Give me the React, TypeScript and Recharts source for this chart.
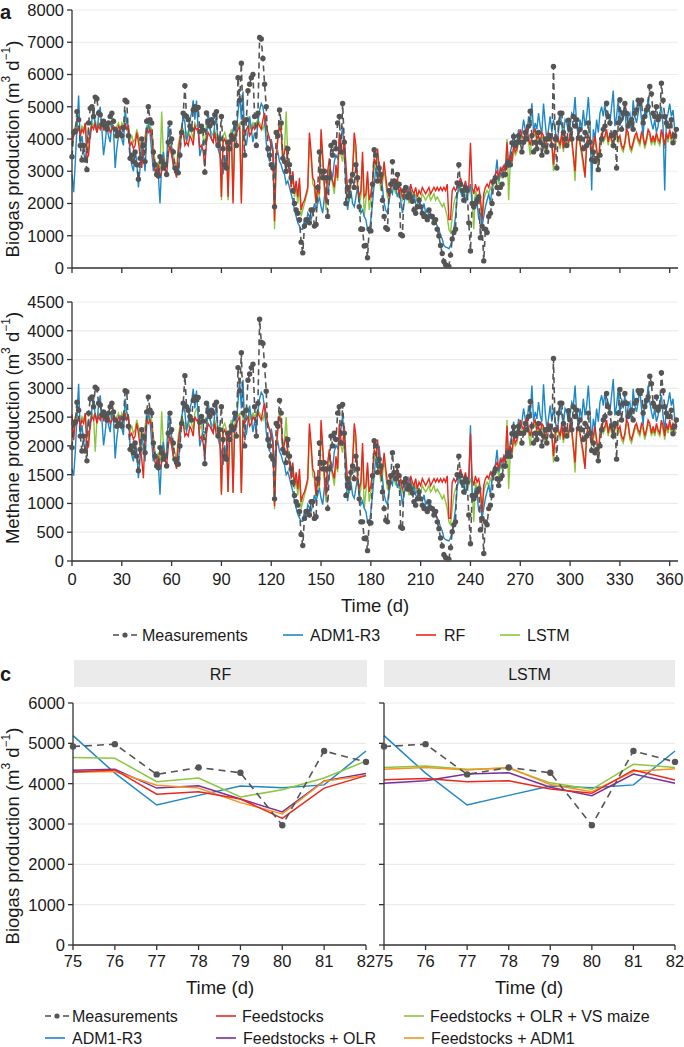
import React from "react";
import { LineChart, Line, XAxis, YAxis, CartesianGrid } from "recharts";

const FONT = '"Liberation Sans", Arial, Helvetica, sans-serif';
const TXT = "#1a1a1a";
const AXIS = "#333333";
const GRID = "#ebebeb";
const GREY = "#555555";
const BLUE = "#1f88c4";
const RED = "#e8281e";
const GREEN = "#8cc63f";
const PURPLE = "#7b2f9c";
const ORANGE = "#f7931e";

// daily biogas production, m3/d
const bioMeas = [
  3450, 4200, 4250, 4850, 4600, 3800, 3350, 3800, 3350, 3050,
  4500, 4950, 5000, 4700, 5300, 5250, 4800, 4750, 4450, 4550,
  4400, 4300, 4500, 4700, 4800, 4550, 4300, 4100, 4200, 4150,
  4100, 4350, 5200, 5150, 4100, 3400, 3500, 3300, 3600, 3200,
  2750, 3400, 4000, 3800, 3300, 4550, 5000, 4600, 4500, 3600,
  3200, 2900, 2850, 3450, 3300, 3100, 3200, 2900, 3900, 4500,
  4000, 3600, 3100, 3000, 2950, 3500, 4200, 4800, 5650, 4700,
  4600, 4400, 4300, 4900, 5000, 4920, 4980, 4230, 4400, 4270,
  2970, 4810, 4540, 4400, 4600, 4500, 4750, 4850, 3800, 4000,
  4700, 3700, 3200, 3100, 3900, 3700, 4100, 4000, 4500, 3800,
  5900, 5200, 6350, 4500, 3500, 4600, 5500, 5700, 5900, 6000,
  4700, 3800, 4800, 7150, 7100, 6500, 5700, 5000, 3700, 3500,
  3200, 3100, 1900, 4200, 4100, 4900, 4500, 3400, 3300, 3000,
  3700, 3200, 2800, 2400, 2000, 1800, 1700, 1500, 800, 470,
  1300, 1500, 1500, 1400, 1800, 1800, 1300, 1350, 2500, 3600,
  3000, 2800, 3000, 2800, 1600, 2800, 3800, 3500, 3900, 3700,
  4500, 4700, 3600, 5100, 3900, 2000, 2500, 2230, 2700, 2900,
  2500, 3200, 2800, 1900, 1200, 1200, 680, 700, 320, 1200,
  1150, 2600, 3670, 3500, 2700, 3100, 2900, 2100, 1600, 1250,
  1200, 2400, 2600, 3300, 2700, 2500, 2900, 2600, 1040, 1000,
  2400, 2500, 2200, 2300, 2200, 2070, 1800, 1700, 1900, 2100,
  1900, 1700, 1600, 1600, 1500, 1800, 1610, 1600, 1400, 1500,
  1200, 990, 700, 450, 200, 100, 60, 50, 400, 900,
  1100, 1200, 2640, 3200, 2600, 2400, 2100, 2500, 2400, 1400,
  525, 2000, 1900, 2000, 2100, 2200, 940, 1300, 220, 1200,
  1100, 1600, 1700, 2000, 2690, 2800, 2500, 2300, 2500, 2600,
  2900, 2900, 3200, 3300, 3200, 3880, 4080, 3800, 3900, 4100,
  3900, 3600, 3900, 4200, 4000, 4400, 4860, 4100, 3600, 3900,
  3700, 4200, 3900, 3500, 3800, 4000, 3600, 4000, 4100, 3800,
  6250, 4000, 3100, 4500, 4800, 4800, 4200, 4000, 3800, 4580,
  4300, 4000, 4700, 4400, 4600, 4030, 4300, 4000, 3700, 4200,
  3800, 4500, 3900, 3360, 3600, 3300, 3400, 3050, 3500, 4000,
  4300, 4400, 5110, 4700, 4500, 4100, 3800, 4200, 3100, 4500,
  5220, 4300, 4800, 5100, 4800, 4400, 4500, 4600, 4300, 4800,
  4900, 5200, 5100, 5200, 4500, 4700, 4900, 5000, 5630, 5400,
  4800, 4700, 5000, 4600, 4700, 5730, 5200, 4700, 4500, 4400,
  4400, 4600, 3880, 4100, 4300,
];

const bioAdm = [
  2900, 2350, 3300, 4400, 5350, 3800, 4100, 3600, 3300, 3900,
  4300, 4000, 4600, 4900, 4400, 4200, 4700, 5000, 4300, 3500,
  3900, 4400, 4100, 3900, 4500, 4300, 3100, 3700, 4100, 4400,
  4000, 3800, 4900, 4500, 4300, 3500, 3200, 3000, 3600, 3300,
  2500, 3100, 3800, 3500, 3000, 4100, 4500, 4200, 3600, 3000,
  3300, 3000, 2900, 2000, 3200, 3600, 3000, 3300, 4400, 4200,
  3700, 3200, 3000, 3100, 2900, 3600, 4300, 4700, 4500, 3900,
  4200, 4600, 4800, 5200, 4600, 5190, 4260, 3470, 3710, 3940,
  3900, 3970, 4810, 4400, 4000, 3900, 4500, 4700, 3700, 3500,
  3300, 2900, 3500, 3100, 3600, 4000, 3800, 4300, 4500, 4200,
  4800, 5400, 4600, 5470, 4000, 3800, 4200, 4700, 4300, 3900,
  4200, 4000, 4500, 4900, 5100, 5000, 4600, 3900, 3500, 3300,
  4000, 3700, 2800, 3500, 3600, 3300, 3200, 3000, 2900, 2600,
  2700, 2500, 2300, 2100, 1800, 1600, 1400, 1300, 1200, 1200,
  1500, 1300, 1700, 1600, 1500, 1700, 2000, 1800, 2000, 2200,
  1900, 1700, 2200, 2500, 2300, 2600, 3000, 2800, 3300, 3500,
  3400, 3700, 4000, 4390, 3600, 2500, 1800, 2200, 2400, 2000,
  1900, 2200, 2500, 2100, 1700, 1800, 1600, 1500, 1200, 1100,
  1500, 2000, 2600, 3100, 2800, 3300, 2900, 2500, 2000, 1800,
  1700, 2100, 2400, 2300, 2700, 2500, 2200, 2400, 2100, 1700,
  2000, 2300, 2100, 2500, 2400, 2100, 2300, 2000, 1900, 2200,
  1900, 1800, 2000, 1700, 1800, 1600, 1700, 1500, 1600, 1400,
  1300, 1200, 1000, 900, 700, 650, 630, 600, 700, 900,
  1200, 1600, 2200, 2600, 2400, 2200, 2500, 2000, 2300, 2400,
  2600, 2000, 1800, 2200, 2000, 1500, 1700, 1300, 1600, 1900,
  2100, 2300, 2000, 2500, 2800, 2900, 3360, 2700, 2900, 3100,
  3000, 3200, 3400, 3100, 3600, 3800, 4200, 3700, 3900, 4300,
  4000, 4200, 4600, 4300, 4100, 4700, 4400, 5110, 4200, 4500,
  4300, 4800, 4400, 4200, 5100, 4500, 4000, 4300, 4700, 4200,
  4600, 4300, 3900, 4200, 4800, 4400, 4100, 4600, 4500, 4200,
  4400, 4800, 4700, 5300, 4400, 4100, 4600, 4300, 4900, 4400,
  4700, 5300, 4500, 2400, 4300, 4000, 4600, 4200, 4800, 5000,
  4700, 5100, 4600, 4800, 4500, 5000, 5500, 4400, 4700, 5200,
  4400, 4900, 4600, 5000, 4200, 4700, 4800, 4300, 5200, 4700,
  4500, 4800, 5200, 4600, 4100, 4900, 4700, 5300, 4800, 4500,
  4300, 4600, 4200, 4400, 4800, 5000, 4400, 2400, 4600, 4800,
  5100, 4700, 4900, 4300, 4100,
];

const bioRf = [
  3800, 4100, 4300, 4200, 4400, 4100, 4300, 4200, 4500, 3400,
  3500, 4200, 4400, 4300, 4500, 4200, 4400, 4300, 4600, 4300,
  4400, 4300, 4400, 4200, 4300, 4400, 4300, 4200, 4400, 4300,
  4400, 4300, 4500, 4300, 4400, 3800, 3900, 3700, 3800, 4200,
  3900, 3500, 3100, 3800, 3900, 4300, 4200, 4300, 4100, 3500,
  3000, 2900, 3200, 2800, 3000, 3400, 3100, 2900, 3500, 3800,
  3500, 3200, 3000, 2800, 3600, 4000, 4300, 4200, 3800, 3900,
  3800, 4100, 4000, 3800, 4400, 4290, 4340, 3740, 3800, 3620,
  3140, 3890, 4200, 4100, 4000, 3900, 4200, 3800, 3900, 3900,
  2200, 3900, 4000, 3800, 2200, 3900, 4200, 2000, 4100, 4200,
  4300, 4400, 2000, 4300, 4200, 4300, 4400, 4100, 4200, 4400,
  4300, 4400, 4500, 4400, 4300, 4600, 4800, 4400, 4200, 4000,
  3800, 3600, 1450, 3400, 4000, 4400, 4200, 3300, 3600, 3800,
  3200, 3000, 2500, 3000, 2300, 2700, 2200, 2800, 1800, 2000,
  2100, 2300, 2500, 4200, 3600, 2800, 2700, 2000, 2600, 2300,
  4300, 3500, 2600, 2000, 3000, 3400, 2900, 2700, 2500, 3200,
  2800, 4200, 3700, 3500, 4100, 3200, 2400, 2300, 2800, 3000,
  4200, 3800, 2600, 2200, 2400, 3600, 2200, 2300, 3000, 2100,
  2300, 2700, 3400, 3200, 3700, 3100, 2600, 2800, 3300, 2800,
  2400, 2200, 2500, 2700, 2600, 2500, 2800, 2300, 2500, 2200,
  2300, 2500, 2400, 2100, 2600, 2400, 2300, 2500, 2200, 2400,
  2300, 2500, 2400, 2300, 2400, 2500, 2300, 2400, 2500, 2400,
  2500, 2400, 2500, 2400, 2500, 2400, 2600, 1500, 1500, 2400,
  2500, 2400, 2500, 2600, 2800, 2600, 2500, 2700, 2400, 2500,
  3880, 2500, 2300, 2600, 2400, 2500, 2200, 1500, 2300, 2500,
  2600, 2500, 2700, 2600, 2800, 2900, 3000, 2800, 3100, 3000,
  3200, 3000, 3900, 3200, 3500, 3300, 3800, 3600, 3700, 4000,
  4300, 4100, 4000, 4200, 4400, 4000, 3800, 4100, 4200, 4300,
  4000, 4100, 3900, 4200, 4100, 3700, 4000, 4200, 4100, 3900,
  3200, 3900, 4100, 4000, 3800, 4200, 3700, 4100, 4000, 3900,
  4200, 4000, 3500, 3000, 4000, 4200, 3900, 3600, 3300, 2800,
  3900, 4100, 4000, 3600, 3800, 4100, 3700, 3300, 3900, 4200,
  4000, 4100, 4300, 3900, 4200, 4000, 3800, 4100, 4200, 4000,
  4100, 3800, 3700, 3900, 4300, 4200, 3800, 3700, 3900, 4100,
  4200, 4000, 3900, 4200, 4100, 3800, 4000, 4300, 4200, 3900,
  4100, 3900, 4200, 4000, 3900, 4300, 4100, 3800, 4200, 4000,
  4300, 4000, 4200, 4100, 4000,
];

const bioLstm = [
  4000, 4200, 4400, 4500, 4300, 4200, 4400, 4300, 4500, 3800,
  3700, 4300, 4500, 4400, 4600, 4300, 4500, 4400, 4500, 4400,
  4500, 4400, 4300, 4400, 4500, 4400, 4300, 4400, 4500, 4300,
  4500, 4400, 4600, 4500, 4400, 4000, 4100, 3900, 4000, 4300,
  4100, 3800, 3400, 4000, 4100, 4400, 4300, 4400, 4300, 3800,
  3300, 3100, 3300, 3000, 4850, 3600, 3300, 3100, 3700, 4000,
  3800, 3500, 3300, 3100, 3800, 4100, 4400, 4300, 4000, 4200,
  4100, 4300, 4200, 4000, 4500, 4400, 4440, 4360, 4380, 4020,
  3860, 4480, 4400, 4300, 4200, 4100, 4300, 4000, 4100, 4100,
  2100, 4100, 4200, 4000, 2100, 4100, 4300, 2100, 4200, 4300,
  4400, 4500, 2100, 4400, 4600, 4500, 4700, 4300, 4400, 4500,
  4400, 4500, 4600, 4500, 4400, 4300, 4500, 4200, 4100, 4000,
  3900, 3600, 1200, 3500, 4200, 4500, 4300, 3400, 3700, 4850,
  3400, 3100, 2600, 2900, 2200, 2500, 2000, 2600, 1600, 1800,
  2000, 2200, 2400, 3900, 3400, 2600, 2500, 1900, 2400, 2200,
  4000, 3300, 2400, 1800, 2800, 3200, 2800, 2600, 2300, 3000,
  2700, 4000, 3500, 3300, 3900, 3000, 2200, 2100, 2600, 2900,
  3900, 3500, 2400, 2000, 2200, 3300, 1600, 2100, 2800, 1800,
  2100, 2500, 3200, 3000, 3500, 2900, 2400, 2600, 3100, 2600,
  2200, 2100, 2400, 2600, 2500, 2300, 2600, 2200, 2400, 2100,
  2200, 2400, 2300, 2000, 2400, 2300, 2100, 2300, 2100, 2200,
  2100, 2300, 2200, 2100, 2200, 2300, 2100, 2200, 2300, 2100,
  2200, 2100, 2000, 1900, 2000, 1800, 1600, 1200, 1100, 1600,
  2000, 2200, 2300, 2400, 2500, 2400, 2300, 2500, 2200, 2300,
  2500, 2300, 1200, 2400, 2200, 2300, 2000, 1300, 2100, 2300,
  2400, 2300, 2500, 2400, 2600, 2700, 2800, 2600, 2900, 2800,
  3000, 2800, 4000, 2100, 3300, 3200, 3700, 3500, 3600, 3900,
  4100, 4000, 3900, 4100, 4200, 3900, 3500, 4000, 4100, 4200,
  3900, 4000, 3800, 4100, 4000, 3600, 3900, 4100, 4000, 3800,
  3000, 3700, 4000, 3900, 3700, 4100, 3600, 4000, 3900, 3800,
  4100, 3900, 3400, 2700, 3900, 4100, 3800, 3500, 3100, 2900,
  3800, 4000, 3900, 3500, 3700, 4000, 3600, 3100, 3800, 4100,
  3900, 4000, 4200, 3800, 4100, 3900, 3700, 4000, 4100, 3900,
  4000, 3700, 3600, 3800, 4200, 4100, 3700, 3600, 3800, 4000,
  4100, 3900, 3800, 4100, 4000, 3700, 3900, 4200, 4100, 3800,
  4000, 3800, 4100, 3900, 3800, 4200, 4000, 3700, 4100, 3900,
  4200, 3900, 4100, 4000, 3900,
];

// daily methane production, m3/d
const ch4Meas = [
  1970, 2390, 2420, 2760, 2620, 2170, 1910, 2170, 1910, 1740,
  2570, 2820, 2850, 2680, 3020, 2990, 2740, 2710, 2540, 2590,
  2510, 2450, 2570, 2680, 2740, 2590, 2450, 2340, 2390, 2370,
  2340, 2480, 2960, 2940, 2340, 1940, 2000, 1880, 2050, 1820,
  1570, 1940, 2280, 2170, 1880, 2590, 2850, 2620, 2570, 2050,
  1820, 1650, 1620, 1970, 1880, 1770, 1820, 1650, 2220, 2570,
  2280, 2050, 1770, 1710, 1680, 2000, 2390, 2740, 3220, 2680,
  2620, 2510, 2450, 2790, 2850, 2800, 2840, 2410, 2510, 2430,
  1690, 2740, 2590, 2510, 2620, 2570, 2710, 2760, 2170, 2280,
  2680, 2110, 1820, 1770, 2220, 2110, 2340, 2280, 2570, 2170,
  3360, 2960, 3620, 2570, 2000, 2620, 3140, 3250, 3360, 3420,
  2680, 2170, 2740, 4200, 3800, 3780, 3400, 2950, 2110, 2000,
  1820, 1770, 1080, 2390, 2340, 2790, 2570, 1940, 1880, 1710,
  2110, 1820, 1600, 1370, 1140, 1030, 970, 860, 460, 270,
  740, 860, 860, 800, 1030, 1030, 740, 770, 1430, 2050,
  1710, 1600, 1710, 1600, 910, 1600, 2170, 2000, 2220, 2110,
  2570, 2680, 2050, 2720, 2220, 1140, 1430, 1270, 1540, 1650,
  1430, 1820, 1600, 1080, 680, 680, 390, 400, 180, 680,
  660, 1480, 2090, 2000, 1540, 1770, 1650, 1200, 910, 710,
  680, 1370, 1480, 1880, 1540, 1430, 1650, 1480, 590, 570,
  1370, 1430, 1250, 1310, 1250, 1180, 1030, 970, 1080, 1200,
  1080, 970, 910, 910, 860, 1030, 920, 910, 800, 860,
  680, 560, 400, 260, 110, 60, 30, 30, 230, 510,
  630, 680, 1500, 1820, 1480, 1370, 1200, 1430, 1370, 800,
  300, 1140, 1080, 1140, 1200, 1250, 540, 740, 130, 680,
  630, 910, 970, 1140, 1530, 1600, 1430, 1310, 1430, 1480,
  1650, 1650, 1820, 1880, 1820, 2210, 2330, 2170, 2220, 2340,
  2220, 2050, 2220, 2390, 2280, 2510, 2770, 2340, 2050, 2220,
  2110, 2390, 2220, 2000, 2170, 2280, 2050, 2280, 2340, 2170,
  3520, 2280, 1770, 2570, 2740, 2740, 2390, 2280, 2170, 2610,
  2450, 2280, 2680, 2510, 2620, 2300, 2450, 2280, 2110, 2390,
  2170, 2570, 2220, 1920, 2050, 1880, 1940, 1740, 2000, 2280,
  2450, 2510, 2910, 2680, 2570, 2340, 2170, 2390, 1770, 2570,
  2980, 2450, 2740, 2910, 2740, 2510, 2570, 2620, 2450, 2740,
  2790, 2960, 2910, 2960, 2570, 2680, 2790, 2850, 3210, 3080,
  2740, 2680, 2850, 2620, 2680, 3270, 2960, 2680, 2570, 2510,
  2510, 2620, 2210, 2340, 2450,
];

const ch4Adm = [
  1600, 1480, 1900, 2530, 3080, 2190, 2360, 2070, 1900, 2240,
  2470, 2300, 2650, 2820, 2530, 2420, 2700, 2880, 2470, 2010,
  2240, 2530, 2360, 2240, 2590, 2470, 1780, 2130, 2360, 2530,
  2300, 2190, 2820, 2590, 2470, 2010, 1840, 1730, 2070, 1900,
  1440, 1780, 2190, 2010, 1730, 2360, 2590, 2420, 2070, 1730,
  1900, 1730, 1670, 1150, 1840, 2070, 1730, 1900, 2530, 2420,
  2130, 1840, 1730, 1780, 1670, 2070, 2470, 2700, 2590, 2240,
  2420, 2650, 2760, 2990, 2650, 2960, 2470, 1990, 2130, 2260,
  2230, 2270, 2760, 2530, 2300, 2240, 2590, 2700, 2130, 2010,
  1900, 1670, 2010, 1780, 2070, 2300, 2190, 2470, 2590, 2420,
  2760, 3110, 2650, 3150, 2300, 2190, 2420, 2700, 2470, 2240,
  2420, 2300, 2590, 2820, 2930, 2880, 2650, 2240, 2010, 1900,
  2300, 2130, 1610, 2010, 2070, 1900, 1840, 1730, 1670, 1500,
  1550, 1440, 1320, 1210, 1040, 920, 810, 750, 690, 690,
  860, 750, 980, 920, 860, 980, 1150, 1040, 1150, 1270,
  1090, 980, 1270, 1440, 1320, 1500, 1730, 1610, 1900, 2010,
  1960, 2130, 2300, 2520, 2070, 1440, 1040, 1270, 1380, 1150,
  1090, 1270, 1440, 1210, 980, 1040, 920, 860, 690, 630,
  860, 1150, 1500, 1780, 1610, 2000, 1670, 1440, 1150, 1040,
  980, 1210, 1380, 1320, 1550, 1440, 1270, 1380, 1210, 980,
  1150, 1320, 1210, 1440, 1380, 1210, 1320, 1150, 1090, 1270,
  1090, 1040, 1150, 980, 1040, 920, 980, 860, 920, 810,
  750, 690, 580, 520, 400, 370, 360, 350, 400, 520,
  690, 920, 1270, 1500, 1380, 1270, 1440, 1150, 1320, 1380,
  2360, 1150, 1040, 1270, 1150, 860, 980, 750, 920, 1090,
  1210, 1320, 1150, 1440, 1610, 1670, 1930, 1550, 1670, 1780,
  1730, 1840, 1960, 1780, 2070, 2190, 2420, 2130, 2240, 2470,
  2300, 2420, 2650, 2470, 2360, 2700, 2530, 3050, 2420, 2590,
  2470, 2760, 2530, 2420, 3070, 2590, 2300, 2470, 2700, 2420,
  2650, 2470, 2240, 2420, 2760, 2530, 2360, 2650, 2590, 2420,
  2530, 2760, 2700, 3050, 2530, 2360, 2650, 2470, 2820, 2530,
  2700, 3050, 2590, 2050, 2470, 2300, 2650, 2420, 2760, 2880,
  2700, 2930, 2650, 2760, 2590, 2880, 3160, 2530, 2700, 2990,
  2530, 2820, 2650, 2880, 2420, 2700, 2760, 2470, 2990, 2700,
  2590, 2760, 2990, 2650, 2360, 2820, 2700, 3050, 2760, 2590,
  2470, 2650, 2420, 2530, 2760, 2880, 2530, 2250, 2650, 2760,
  2930, 2700, 2820, 2470, 2360,
];

const ch4Rf = [
  2550, 2100, 2450, 2390, 2510, 2340, 2450, 2390, 2570, 1940,
  2000, 2390, 2510, 2450, 2570, 2390, 2510, 2450, 2620, 2450,
  2510, 2450, 2510, 2390, 2450, 2510, 2450, 2390, 2510, 2450,
  2510, 2450, 2570, 2450, 2510, 2170, 2220, 2110, 2170, 2390,
  2220, 2000, 1770, 1440, 2220, 2450, 2390, 2450, 2340, 2000,
  1710, 1650, 1820, 1600, 1710, 1940, 1770, 1650, 2000, 2170,
  2000, 1820, 1710, 1600, 2050, 2280, 2450, 2390, 2170, 2220,
  2170, 2340, 2280, 2170, 2510, 2440, 2460, 2130, 2160, 2050,
  1780, 2210, 2390, 2340, 2280, 2220, 2390, 2170, 2220, 2220,
  1150, 2220, 2280, 2170, 1200, 2220, 2390, 1180, 2340, 2390,
  2450, 2510, 1180, 2450, 2390, 2450, 2510, 2340, 2390, 2510,
  2450, 2510, 2570, 2510, 2450, 2620, 2740, 2510, 2390, 2280,
  2170, 2050, 950, 1940, 2280, 2510, 2390, 1880, 2050, 2170,
  1820, 1710, 1430, 1710, 1310, 1540, 1250, 1600, 1030, 1140,
  1200, 1310, 1430, 2390, 2050, 1600, 1540, 1140, 1480, 1310,
  2450, 2000, 1480, 1140, 1710, 1940, 1650, 1540, 1430, 1820,
  1600, 2390, 2110, 2000, 2340, 1820, 1370, 1310, 1600, 1710,
  2390, 2170, 1480, 1250, 1370, 2050, 1250, 1310, 1710, 1200,
  1310, 1540, 1940, 1820, 2110, 1770, 1480, 1600, 1880, 1600,
  1370, 1250, 1430, 1540, 1480, 1430, 1600, 1310, 1430, 1250,
  1310, 1430, 1370, 1200, 1480, 1370, 1310, 1430, 1250, 1370,
  1310, 1430, 1370, 1310, 1370, 1430, 1310, 1370, 1430, 1370,
  1430, 1370, 1430, 1370, 1430, 1370, 1480, 740, 740, 1370,
  1430, 1370, 1430, 1480, 1600, 1480, 1430, 1540, 1370, 1430,
  2210, 1430, 1310, 1480, 1370, 1430, 1250, 850, 1310, 1430,
  1480, 1430, 1540, 1480, 1600, 1650, 1710, 1600, 1770, 1710,
  1820, 1710, 2350, 1820, 2000, 1880, 2170, 2050, 2110, 2280,
  2450, 2340, 2280, 2390, 2510, 2280, 2170, 2340, 2390, 2450,
  2280, 2340, 2220, 2390, 2340, 2110, 2280, 2390, 2340, 2220,
  1820, 2220, 2340, 2280, 2170, 2390, 2110, 2340, 2280, 2220,
  2390, 2280, 2000, 1710, 2280, 2390, 2220, 2050, 1880, 1600,
  2220, 2340, 2280, 2050, 2170, 2340, 2110, 1880, 2220, 2390,
  2280, 2340, 2450, 2220, 2390, 2280, 2170, 2340, 2390, 2280,
  2340, 2170, 2110, 2220, 2450, 2390, 2170, 2110, 2220, 2340,
  2390, 2280, 2220, 2390, 2340, 2170, 2280, 2450, 2390, 2220,
  2340, 2220, 2390, 2280, 2220, 2450, 2340, 2170, 2390, 2280,
  2450, 2280, 2390, 2340, 2280,
];

const ch4Lstm = [
  2280, 2390, 2510, 2570, 2450, 2390, 2510, 2450, 2570, 2170,
  2110, 2450, 2570, 2510, 1900, 2450, 2570, 2510, 2570, 2510,
  2570, 2510, 2450, 2510, 2570, 2510, 2450, 2510, 2570, 2450,
  2570, 2510, 2620, 2570, 2510, 2280, 2340, 2220, 2280, 2450,
  2340, 2170, 1940, 2280, 2340, 2510, 2450, 2510, 2450, 2170,
  1880, 1770, 1880, 1710, 2600, 2050, 1880, 1770, 2110, 2280,
  2170, 2000, 1880, 1770, 2170, 2340, 2510, 2450, 2280, 2390,
  2340, 2450, 2390, 2280, 2570, 2640, 2630, 2300, 2350, 2080,
  2180, 2350, 2570, 2450, 2390, 2340, 2450, 2280, 2340, 2340,
  1200, 2340, 2390, 2280, 1200, 2340, 2450, 1200, 2390, 2450,
  2510, 2570, 1200, 2510, 2620, 2570, 2680, 2450, 2510, 2570,
  2510, 2570, 2620, 2570, 2510, 2450, 2570, 2390, 2340, 2280,
  2220, 2050, 900, 2000, 2390, 2570, 2450, 1940, 2110, 2500,
  1940, 1770, 1480, 1650, 1250, 1430, 1140, 1480, 910, 1030,
  1140, 1250, 1370, 2220, 1940, 1480, 1430, 1080, 1370, 1250,
  2280, 1880, 1370, 1030, 1600, 1820, 1600, 1480, 1310, 1710,
  1540, 2280, 2000, 1880, 2220, 1710, 1250, 1200, 1480, 1650,
  2220, 2000, 1370, 1140, 1250, 1880, 910, 1200, 1600, 1030,
  1200, 1430, 1820, 1710, 2000, 1650, 1370, 1480, 1770, 1480,
  1250, 1200, 1370, 1480, 1430, 1310, 1480, 1250, 1370, 1200,
  1250, 1370, 1310, 1140, 1370, 1310, 1200, 1310, 1200, 1250,
  1200, 1310, 1250, 1200, 1250, 1310, 1200, 1250, 1310, 1200,
  1250, 1200, 1140, 1080, 1140, 1030, 910, 680, 630, 910,
  1140, 1250, 1310, 1370, 1430, 1370, 1310, 1430, 1250, 1310,
  1430, 1310, 680, 1370, 1250, 1310, 1140, 740, 1200, 1310,
  1370, 1310, 1430, 1370, 1480, 1540, 1600, 1480, 1650, 1600,
  1710, 1600, 2450, 1250, 1880, 1820, 2110, 2000, 2050, 2220,
  2340, 2280, 2220, 2340, 2390, 2220, 2000, 2280, 2340, 2390,
  2220, 2280, 2170, 2340, 2280, 2050, 2220, 2340, 2280, 2170,
  1710, 2110, 2280, 2220, 2110, 2340, 2050, 2280, 2220, 2170,
  2340, 2220, 1940, 1540, 2220, 2340, 2170, 2000, 1770, 1650,
  2170, 2280, 2220, 2000, 2110, 2280, 2050, 1770, 2170, 2340,
  2220, 2280, 2390, 2170, 2340, 2220, 2110, 2280, 2340, 2220,
  2280, 2110, 2050, 2170, 2390, 2340, 2110, 2050, 2170, 2280,
  2340, 2220, 2170, 2340, 2280, 2110, 2220, 2390, 2340, 2170,
  2280, 2170, 2340, 2220, 2170, 2390, 2280, 2110, 2340, 2220,
  2390, 2220, 2340, 2280, 2220,
];

const dayTicks = [0, 30, 60, 90, 120, 150, 180, 210, 240, 270, 300, 330, 360];
const bioTicks = [0, 1000, 2000, 3000, 4000, 5000, 6000, 7000, 8000];
const ch4Ticks = [0, 500, 1000, 1500, 2000, 2500, 3000, 3500, 4000, 4500];

// zoomed window, days 75-82
const zoomDays = [75, 76, 77, 78, 79, 80, 81, 82];
const zoomTicks = [0, 1000, 2000, 3000, 4000, 5000, 6000];
const zoomMeas = [4920, 4980, 4230, 4400, 4270, 2970, 4810, 4540];
const zoomAdm = [5190, 4260, 3470, 3710, 3940, 3900, 3970, 4810];
const rfFeed = [4290, 4340, 3740, 3800, 3620, 3140, 3890, 4200];
const rfOlr = [4330, 4360, 3890, 3950, 3620, 3300, 4070, 4250];
const rfVs = [4650, 4630, 4050, 4140, 3670, 3850, 4140, 4560];
const rfAdm1 = [4280, 4300, 3960, 3890, 3530, 3250, 4060, 4200];
const lstmFeed = [4100, 4130, 4050, 4070, 3870, 3760, 4340, 4090];
const lstmOlr = [4010, 4070, 4240, 4270, 3910, 3700, 4240, 4010];
const lstmVs = [4400, 4440, 4360, 4380, 4020, 3860, 4480, 4400];
const lstmAdm1 = [4360, 4400, 4340, 4400, 3980, 3800, 4300, 4370];

const bioData = bioMeas.map((v, i) => ({
  day: i, meas: v, adm: bioAdm[i], rf: bioRf[i], lstm: bioLstm[i],
}));
const ch4Data = ch4Meas.map((v, i) => ({
  day: i, meas: v, adm: ch4Adm[i], rf: ch4Rf[i], lstm: ch4Lstm[i],
}));

function facetRows(feed: number[], olr: number[], vs: number[], adm1: number[]) {
  return zoomDays.map((d, i) => ({
    day: d, meas: zoomMeas[i], adm: zoomAdm[i],
    feed: feed[i], olr: olr[i], vs: vs[i], adm1: adm1[i],
  }));
}
const rfData = facetRows(rfFeed, rfOlr, rfVs, rfAdm1);
const lstmData = facetRows(lstmFeed, lstmOlr, lstmVs, lstmAdm1);

const tickStyle = { fill: TXT, fontSize: 16.5, fontFamily: FONT };
const axisStyle = { stroke: AXIS, strokeWidth: 1.3 };
const blank = () => "";

type Row = Record<string, number>;

function SeriesPanel(props: {
  top: number; height: number; data: Row[]; yMax: number; yTicks: number[]; labels: boolean;
}) {
  const { top, height, data, yMax, yTicks, labels } = props;
  return (
    <div style={{ position: "absolute", left: 0, top }}>
      <LineChart width={684} height={height} data={data} margin={{ top: 10, right: 6, left: 0, bottom: 0 }}>
        <CartesianGrid vertical={false} stroke={GRID} strokeWidth={1.2} />
        <XAxis
          dataKey="day" type="number" domain={[0, 365]} ticks={dayTicks} interval={0}
          height={labels ? 30 : 12} tickSize={5} tickMargin={7}
          axisLine={axisStyle} tickLine={axisStyle} tick={tickStyle}
          tickFormatter={labels ? undefined : blank}
        />
        <YAxis
          domain={[0, yMax]} ticks={yTicks} interval={0} width={72} tickSize={5} tickMargin={3}
          axisLine={axisStyle} tickLine={axisStyle} tick={tickStyle}
        />
        <Line type="linear" dataKey="lstm" stroke={GREEN} strokeWidth={1.4} dot={false} isAnimationActive={false} />
        <Line type="linear" dataKey="adm" stroke={BLUE} strokeWidth={1.4} dot={false} isAnimationActive={false} />
        <Line type="linear" dataKey="rf" stroke={RED} strokeWidth={1.4} dot={false} isAnimationActive={false} />
        <Line
          type="linear" dataKey="meas" stroke={GREY} strokeWidth={1.6} strokeDasharray="6 4"
          dot={{ r: 2.7, fill: GREY, stroke: "none" }} isAnimationActive={false}
        />
      </LineChart>
    </div>
  );
}

function FacetPanel(props: { left: number; width: number; data: Row[]; yWidth: number; yLabels: boolean; right: number }) {
  const { left, width, data, yWidth, yLabels, right } = props;
  return (
    <div style={{ position: "absolute", left, top: 690 }}>
      <LineChart width={width} height={285} data={data} margin={{ top: 13, right, left: 0, bottom: 0 }}>
        <CartesianGrid vertical={false} stroke={GRID} strokeWidth={1.2} />
        <XAxis
          dataKey="day" type="number" domain={[75, 82]} ticks={zoomDays} interval={0}
          height={30} tickSize={5} tickMargin={5}
          axisLine={axisStyle} tickLine={axisStyle} tick={tickStyle}
        />
        <YAxis
          domain={[0, 6000]} ticks={zoomTicks} interval={0} width={yWidth} tickSize={5} tickMargin={3}
          axisLine={axisStyle} tickLine={axisStyle} tick={tickStyle}
          tickFormatter={yLabels ? undefined : blank}
        />
        <Line type="linear" dataKey="adm" stroke={BLUE} strokeWidth={1.5} dot={false} isAnimationActive={false} />
        <Line type="linear" dataKey="vs" stroke={GREEN} strokeWidth={1.5} dot={false} isAnimationActive={false} />
        <Line type="linear" dataKey="olr" stroke={PURPLE} strokeWidth={1.5} dot={false} isAnimationActive={false} />
        <Line type="linear" dataKey="adm1" stroke={ORANGE} strokeWidth={1.5} dot={false} isAnimationActive={false} />
        <Line type="linear" dataKey="feed" stroke={RED} strokeWidth={1.5} dot={false} isAnimationActive={false} />
        <Line
          type="linear" dataKey="meas" stroke={GREY} strokeWidth={1.6} strokeDasharray="7 5"
          dot={{ r: 3.2, fill: GREY, stroke: "none" }} isAnimationActive={false}
        />
      </LineChart>
    </div>
  );
}

function YTitle({ x, y, name }: { x: number; y: number; name: string }) {
  return (
    <text transform={`translate(${x},${y}) rotate(-90)`} textAnchor="middle" dominantBaseline="central" fontSize={18.5}>
      {name} (m<tspan dy={-6} fontSize={12}>3</tspan>
      <tspan dy={6}> d</tspan>
      <tspan dy={-6} fontSize={12}>−1</tspan>
      <tspan dy={6}>)</tspan>
    </text>
  );
}

function MeasKey({ x, y }: { x: number; y: number }) {
  return (
    <g stroke={GREY} strokeWidth={1.6}>
      <line x1={x} x2={x + 6} y1={y} y2={y} />
      <circle cx={x + 12} cy={y} r={2.6} fill={GREY} stroke="none" />
      <line x1={x + 18} x2={x + 24} y1={y} y2={y} />
    </g>
  );
}

function LineKey({ x, y, color, w = 20 }: { x: number; y: number; color: string; w?: number }) {
  return <line x1={x} x2={x + w} y1={y} y2={y} stroke={color} strokeWidth={1.6} />;
}

function Overlay() {
  const t = { fontFamily: FONT, fill: TXT };
  return (
    <svg width={684} height={1047} style={{ position: "absolute", left: 0, top: 0, pointerEvents: "none" }}>
      <g style={t}>
        <text x={0} y={12} fontSize={20} fontWeight="bold" dominantBaseline="central">a</text>
        <text x={0} y={674} fontSize={20} fontWeight="bold" dominantBaseline="central">c</text>

        <YTitle x={12} y={149} name="Biogas production" />
        <YTitle x={12} y={428} name="Methane production" />
        <YTitle x={12} y={836} name="Biogas production" />

        <text x={375} y={605} fontSize={18.5} textAnchor="middle" dominantBaseline="central">Time (d)</text>
        <text x={220} y={987} fontSize={18.5} textAnchor="middle" dominantBaseline="central">Time (d)</text>
        <text x={529} y={987} fontSize={18.5} textAnchor="middle" dominantBaseline="central">Time (d)</text>

        <MeasKey x={113} y={635} />
        <text x={142} y={635} fontSize={16} dominantBaseline="central">Measurements</text>
        <LineKey x={283} y={635} color={BLUE} />
        <text x={310} y={635} fontSize={16} dominantBaseline="central">ADM1-R3</text>
        <LineKey x={416} y={635} color={RED} />
        <text x={444} y={635} fontSize={16} dominantBaseline="central">RF</text>
        <LineKey x={500} y={635} color={GREEN} />
        <text x={527} y={635} fontSize={16} dominantBaseline="central">LSTM</text>

        <rect x={74} y={660} width={293} height={27} fill="#ebebeb" />
        <rect x={384} y={660} width={291} height={27} fill="#ebebeb" />
        <text x={220.5} y={674} fontSize={16} textAnchor="middle" dominantBaseline="central">RF</text>
        <text x={529.5} y={674} fontSize={16} textAnchor="middle" dominantBaseline="central">LSTM</text>

        <MeasKey x={45} y={1016} />
        <text x={72} y={1016} fontSize={16} dominantBaseline="central">Measurements</text>
        <LineKey x={45} y={1038} color={BLUE} />
        <text x={72} y={1038} fontSize={16} dominantBaseline="central">ADM1-R3</text>
        <LineKey x={216} y={1016} color={RED} />
        <text x={242} y={1016} fontSize={16} dominantBaseline="central">Feedstocks</text>
        <LineKey x={216} y={1038} color={PURPLE} />
        <text x={243} y={1038} fontSize={16} dominantBaseline="central">Feedstocks + OLR</text>
        <LineKey x={404} y={1016} color={GREEN} />
        <text x={430} y={1016} fontSize={16} dominantBaseline="central">Feedstocks + OLR + VS maize</text>
        <LineKey x={404} y={1038} color={ORANGE} />
        <text x={431} y={1038} fontSize={16} dominantBaseline="central">Feedstocks + ADM1</text>
      </g>
    </svg>
  );
}

export default function App() {
  return (
    <div style={{ position: "absolute", left: 0, top: 0, width: 684, height: 1047, background: "#fff", fontFamily: FONT }}>
      <SeriesPanel top={0} height={280} data={bioData} yMax={8000} yTicks={bioTicks} labels={false} />
      <SeriesPanel top={292} height={299} data={ch4Data} yMax={4500} yTicks={ch4Ticks} labels={true} />
      <FacetPanel left={0} width={384} data={rfData} yWidth={73} yLabels={true} right={18} />
      <FacetPanel left={370} width={314} data={lstmData} yWidth={14} yLabels={false} right={9} />
      <Overlay />
    </div>
  );
}
